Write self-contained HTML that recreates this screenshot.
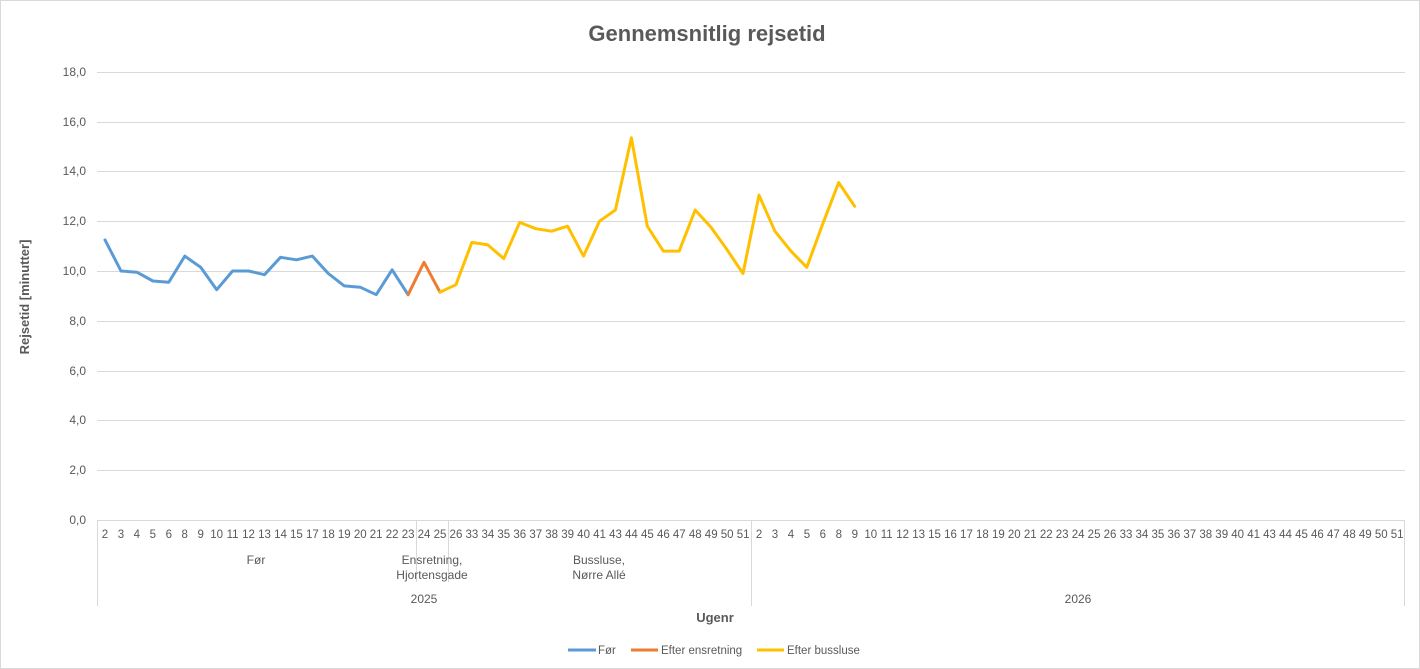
<!DOCTYPE html>
<html><head><meta charset="utf-8"><style>
body{margin:0;background:#fff;}
.wrap{position:relative;width:1420px;height:669px;overflow:hidden;font-family:"Liberation Sans",sans-serif;box-shadow:inset 0 0 0 1px #d9d9d9;}
.row{position:absolute;left:97px;width:1308px;display:flex;font-size:11.5px;color:#595959;}
.row span{flex:1;text-align:center;white-space:nowrap;}
svg text{font-family:"Liberation Sans",sans-serif;fill:#595959;}
</style></head><body><div class="wrap">
<svg width="1420" height="669" style="position:absolute;left:0;top:0">
<text x="707" y="41" font-size="22" font-weight="bold" text-anchor="middle">Gennemsnitlig rejsetid</text>
<g stroke="#d9d9d9" stroke-width="1">
<line x1="97" x2="1405" y1="72.5" y2="72.5"/><line x1="97" x2="1405" y1="122.5" y2="122.5"/><line x1="97" x2="1405" y1="171.5" y2="171.5"/><line x1="97" x2="1405" y1="221.5" y2="221.5"/><line x1="97" x2="1405" y1="271.5" y2="271.5"/><line x1="97" x2="1405" y1="321.5" y2="321.5"/><line x1="97" x2="1405" y1="371.5" y2="371.5"/><line x1="97" x2="1405" y1="420.5" y2="420.5"/><line x1="97" x2="1405" y1="470.5" y2="470.5"/><line x1="97" x2="1405" y1="520.5" y2="520.5"/>
<line x1="97.5" x2="97.5" y1="520" y2="606"/><line x1="751.5" x2="751.5" y1="520" y2="606"/><line x1="1404.5" x2="1404.5" y1="520" y2="606"/>
<line x1="416.5" x2="416.5" y1="520" y2="582"/><line x1="448.5" x2="448.5" y1="520" y2="582"/>
</g>
<g font-size="12" text-anchor="end">
<text x="86" y="76">18,0</text><text x="86" y="126">16,0</text><text x="86" y="175">14,0</text><text x="86" y="225">12,0</text><text x="86" y="275">10,0</text><text x="86" y="325">8,0</text><text x="86" y="375">6,0</text><text x="86" y="424">4,0</text><text x="86" y="474">2,0</text><text x="86" y="524">0,0</text>
</g>
<text transform="translate(29,297) rotate(-90)" font-size="13" font-weight="bold" text-anchor="middle">Rejsetid [minutter]</text>
<g font-size="12" text-anchor="middle">
<text x="256" y="564">Før</text>
<text x="432" y="564">Ensretning,</text><text x="432" y="579">Hjortensgade</text>
<text x="599" y="564">Bussluse,</text><text x="599" y="579">Nørre Allé</text>
<text x="424" y="603">2025</text><text x="1078" y="603">2026</text>
</g>
<text x="715" y="622" font-size="13" font-weight="bold" text-anchor="middle">Ugenr</text>
<g fill="none" stroke-width="3" stroke-linejoin="round" stroke-linecap="round">
<polyline stroke="#5b9bd5" points="105,239.9 121,271 136.9,272.2 152.9,281 168.8,282.2 184.8,256.1 200.7,267.3 216.7,289.7 232.6,271 248.6,271 264.5,274.7 280.5,257.3 296.4,259.8 312.4,256.1 328.3,273.5 344.3,285.9 360.2,287.2 376.2,294.7 392.1,269.8 408.1,294.7"/>
<polyline stroke="#ed7d31" points="408.1,294.7 424,262.3 440,292.2"/>
<polyline stroke="#ffc000" points="440,292.2 455.9,284.7 471.9,242.4 487.8,244.9 503.8,258.6 519.7,222.4 535.7,228.7 551.6,231.2 567.6,226.2 583.5,256.1 599.5,221.2 615.4,210 631.4,137.8 647.3,226.2 663.3,251.1 679.2,251.1 695.2,210 711.1,227.4 727.1,249.8 743,273.5 759,195.1 774.9,231.2 790.9,251.1 806.8,267.3 822.8,223.7 838.7,182.6 854.7,206.3"/>
</g>
<g stroke-width="3"><line x1="568" x2="596" y1="650" y2="650" stroke="#5b9bd5"/><line x1="631" x2="658" y1="650" y2="650" stroke="#ed7d31"/><line x1="757" x2="784" y1="650" y2="650" stroke="#ffc000"/></g>
<g font-size="11.5"><text x="598" y="654">Før</text><text x="661" y="654">Efter ensretning</text><text x="787" y="654">Efter bussluse</text></g>
</svg>
<div class="row" style="top:529px">
<span>2</span><span>3</span><span>4</span><span>5</span><span>6</span><span>8</span><span>9</span><span>10</span><span>11</span><span>12</span><span>13</span><span>14</span><span>15</span><span>17</span><span>18</span><span>19</span><span>20</span><span>21</span><span>22</span><span>23</span><span>24</span><span>25</span><span>26</span><span>33</span><span>34</span><span>35</span><span>36</span><span>37</span><span>38</span><span>39</span><span>40</span><span>41</span><span>43</span><span>44</span><span>45</span><span>46</span><span>47</span><span>48</span><span>49</span><span>50</span><span>51</span>
<span>2</span><span>3</span><span>4</span><span>5</span><span>6</span><span>8</span><span>9</span><span>10</span><span>11</span><span>12</span><span>13</span><span>15</span><span>16</span><span>17</span><span>18</span><span>19</span><span>20</span><span>21</span><span>22</span><span>23</span><span>24</span><span>25</span><span>26</span><span>33</span><span>34</span><span>35</span><span>36</span><span>37</span><span>38</span><span>39</span><span>40</span><span>41</span><span>43</span><span>44</span><span>45</span><span>46</span><span>47</span><span>48</span><span>49</span><span>50</span><span>51</span>
</div>
</div></body></html>
